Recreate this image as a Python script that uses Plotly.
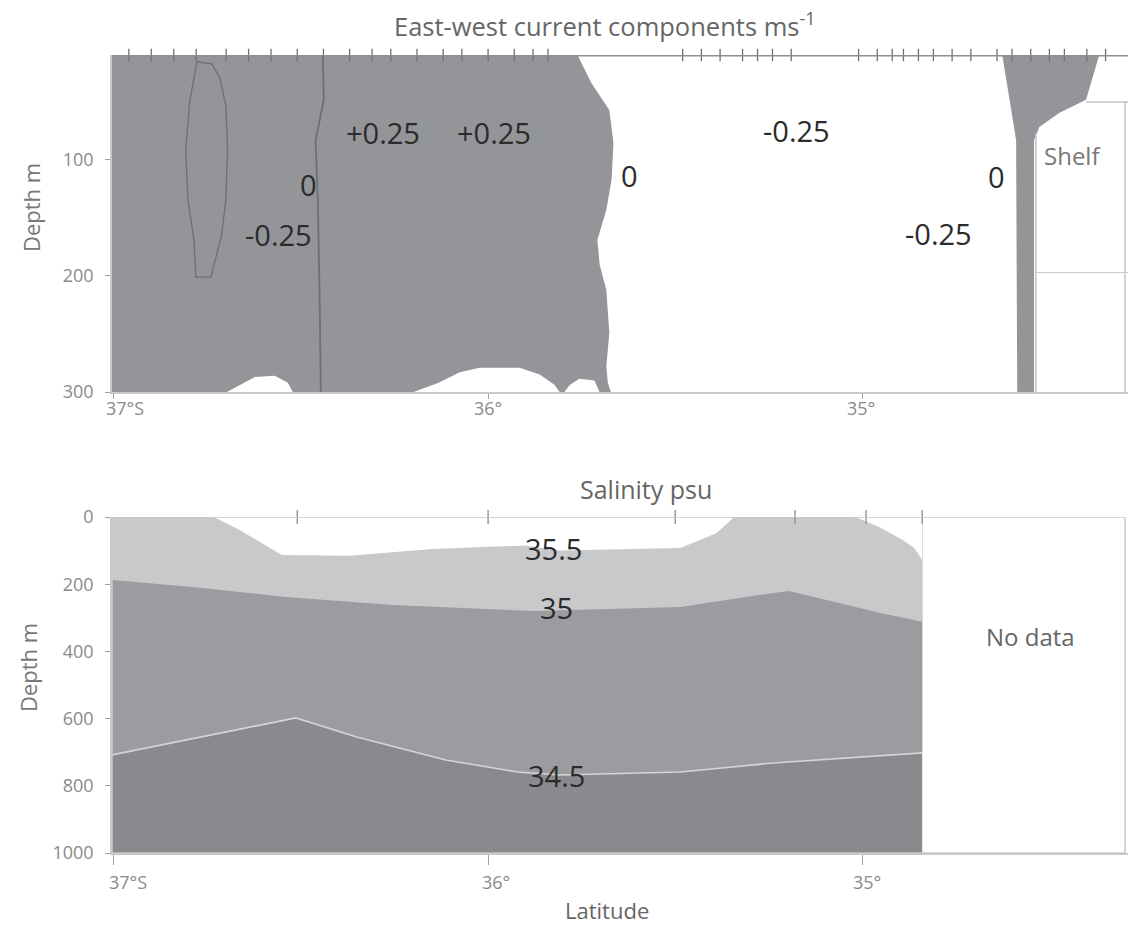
import plotly.graph_objects as go

# ---------------- data (latitude in degrees S, depth in m) ----------------
# Top panel: east-west current
ZERO_EAST_LAT = [35.761, 35.724, 35.676, 35.665, 35.670, 35.684, 35.708, 35.702, 35.684, 35.676, 35.684, 35.680, 35.672]
ZERO_EAST_DEPTH = [9.5, 33.6, 56.9, 85.3, 117, 143, 169, 190, 212, 249, 278, 292, 300]
BOTTOM_EDGE_LAT = [35.702, 35.716, 35.756, 35.782, 35.796, 35.809, 35.822, 35.862, 35.916, 36.023, 36.076,
                   36.132, 36.199, 36.522, 36.535, 36.570, 36.623, 36.664, 36.698]
BOTTOM_EDGE_DEPTH = [300, 290, 288.6, 294, 300, 300, 294, 285, 279, 279, 283, 292, 300, 300, 292, 286, 287, 294, 300]
SHELF_POS_LAT = [34.626, 34.367, 34.402, 34.474, 34.527, 34.541, 34.541, 34.586, 34.589, 34.602]
SHELF_POS_DEPTH = [9.5, 9.5, 48, 59.5, 71.5, 83, 300, 300, 83, 57]
LOOP_LAT = [36.778, 36.797, 36.808, 36.802, 36.786, 36.781, 36.741, 36.730, 36.712, 36.701, 36.696, 36.701, 36.717, 36.738, 36.778]
LOOP_DEPTH = [15.5, 48.3, 91.4, 134.5, 169, 200.9, 200.9, 188, 164.7, 134.5, 91.4, 52.6, 29.3, 17.2, 15.5]
ZERO_WEST_LAT = [36.442, 36.439, 36.461, 36.455, 36.450, 36.447]
ZERO_WEST_DEPTH = [9.5, 48, 83, 134.5, 220.7, 300]
ADCP_STATIONS = [36.96, 36.90, 36.84, 36.78, 36.70, 36.64, 36.58, 36.51, 36.44, 36.37, 36.31, 36.26, 36.19,
                 36.12, 36.07, 36.00, 35.93, 35.88, 35.84, 35.48, 35.43, 35.38, 35.32, 35.28, 35.24, 35.19,
                 35.01, 34.96, 34.92, 34.89, 34.85, 34.81, 34.76, 34.71, 34.64, 34.60, 34.55, 34.50, 34.46,
                 34.40, 34.35]
CURRENT_LABELS = ["+0.25", "+0.25", "0", "-0.25", "0", "-0.25", "0", "-0.25"]
CURRENT_LABEL_LAT = [36.282, 35.985, 36.479, 36.559, 35.622, 35.176, 34.642, 34.797]
CURRENT_LABEL_DEPTH = [76, 76, 121, 164, 113, 75, 114, 163]

# Bottom panel: salinity
S355_LAT = [36.733, 36.664, 36.551, 36.370, 36.150, 35.903, 35.809, 35.600, 35.486, 35.390, 35.353, 35.342]
S355_DEPTH = [0, 39, 113, 115, 95, 85, 100, 95, 92, 48, 9, 0]
S355B_LAT = [35.019, 34.955, 34.893, 34.861, 34.840, 34.840]
S355B_DEPTH = [0, 30, 68, 92, 128, 0]
S35_LAT = [37.005, 36.789, 36.541, 36.255, 35.873, 35.809, 35.486, 35.238, 35.195, 34.952, 34.840]
S35_DEPTH = [187.5, 208, 238, 262, 280, 278, 268, 226, 220, 286, 312]
S345_LAT = [37.005, 36.514, 36.351, 36.113, 35.921, 35.809, 35.486, 35.238, 34.840]
S345_DEPTH = [708, 598, 655, 723, 759, 768, 759, 732, 702]
CTD_STATIONS = [36.51, 36.00, 35.50, 35.18, 34.99, 34.84]
SAL_LABELS = ["35.5", "35", "34.5"]
SAL_LABEL_LAT = [35.825, 35.817, 35.817]
SAL_LABEL_DEPTH = [95, 268, 768]

LAT_TICKS = [37, 36, 35]
LAT_TICK_TEXT = ["37°S", "36°", "35°"]
DEPTH_TICKS_TOP = [100, 200, 300]
DEPTH_TICKS_BOTTOM = [0, 200, 400, 600, 800, 1000]

# ---------------- styles ----------------
FONT = "Open Sans"
GREY_TOP = "#949599"
LIGHT = "#c8c9cb"
MED = "#9b9c9f"
DARK = "#898a8d"
LINE = "#6e6f72"
TICK_COLOR = "#8a8a8a"
LAT_W, LAT_E = 37.005, 34.29
DATA_E = CTD_STATIONS[-1]

fig = go.Figure()

# ---- top panel ----
pos_x = [LAT_W] + ZERO_EAST_LAT + BOTTOM_EDGE_LAT + [LAT_W]
pos_y = [9.5] + ZERO_EAST_DEPTH + BOTTOM_EDGE_DEPTH + [300]
fig.add_trace(go.Scatter(x=pos_x, y=pos_y, fill="toself", fillcolor=GREY_TOP, mode="lines",
                         line=dict(width=0, color=GREY_TOP), xaxis="x", yaxis="y", hoverinfo="skip"))
fig.add_trace(go.Scatter(x=SHELF_POS_LAT, y=SHELF_POS_DEPTH, fill="toself", fillcolor=GREY_TOP, mode="lines",
                         line=dict(width=0, color=GREY_TOP), xaxis="x", yaxis="y", hoverinfo="skip"))
fig.add_trace(go.Scatter(x=LOOP_LAT, y=LOOP_DEPTH, mode="lines", line=dict(width=1.3, color=LINE),
                         xaxis="x", yaxis="y", hoverinfo="skip"))
fig.add_trace(go.Scatter(x=ZERO_WEST_LAT, y=ZERO_WEST_DEPTH, mode="lines", line=dict(width=1.8, color=LINE),
                         xaxis="x", yaxis="y", hoverinfo="skip"))
fig.add_trace(go.Scatter(x=ADCP_STATIONS, y=[9.5] * len(ADCP_STATIONS), mode="markers",
                         marker=dict(symbol="line-ns", size=9, line=dict(width=1.3, color="#6f7073")),
                         cliponaxis=False, xaxis="x", yaxis="y", hoverinfo="skip"))

# ---- bottom panel ----
fig.add_trace(go.Scatter(x=[LAT_W, DATA_E, DATA_E, LAT_W], y=[0, 0, 1000, 1000], fill="toself",
                         fillcolor=DARK, mode="lines", line=dict(width=0, color=DARK),
                         xaxis="x2", yaxis="y2", hoverinfo="skip"))
fig.add_trace(go.Scatter(x=[LAT_W, DATA_E] + S345_LAT[::-1], y=[0, 0] + S345_DEPTH[::-1], fill="toself",
                         fillcolor=MED, mode="lines", line=dict(width=0, color=MED),
                         xaxis="x2", yaxis="y2", hoverinfo="skip"))
fig.add_trace(go.Scatter(x=[LAT_W, DATA_E] + S35_LAT[::-1], y=[0, 0] + S35_DEPTH[::-1], fill="toself",
                         fillcolor=LIGHT, mode="lines", line=dict(width=0, color=LIGHT),
                         xaxis="x2", yaxis="y2", hoverinfo="skip"))
fig.add_trace(go.Scatter(x=S355_LAT, y=S355_DEPTH, fill="toself", fillcolor="white", mode="lines",
                         line=dict(width=0, color="white"), xaxis="x2", yaxis="y2", hoverinfo="skip"))
fig.add_trace(go.Scatter(x=S355B_LAT, y=S355B_DEPTH, fill="toself", fillcolor="white", mode="lines",
                         line=dict(width=0, color="white"), xaxis="x2", yaxis="y2", hoverinfo="skip"))
fig.add_trace(go.Scatter(x=S345_LAT, y=S345_DEPTH, mode="lines", line=dict(width=1.6, color="#d4d5d7"),
                         xaxis="x2", yaxis="y2", hoverinfo="skip"))
fig.add_trace(go.Scatter(x=CTD_STATIONS, y=[0] * len(CTD_STATIONS), mode="markers",
                         marker=dict(symbol="line-ns", size=10, line=dict(width=1.3, color="#8a8b8e")),
                         cliponaxis=False, xaxis="x2", yaxis="y2", hoverinfo="skip"))

# ---- annotations ----
ann = []
for t, la, d in zip(CURRENT_LABELS, CURRENT_LABEL_LAT, CURRENT_LABEL_DEPTH):
    ann.append(dict(x=la, y=d, xref="x", yref="y", text=t, showarrow=False, xanchor="center", yanchor="middle",
                    font=dict(family=FONT, size=29, color="#2b2b2b")))
for t, la, d in zip(SAL_LABELS, SAL_LABEL_LAT, SAL_LABEL_DEPTH):
    ann.append(dict(x=la, y=d, xref="x2", yref="y2", text=t, showarrow=False, xanchor="center", yanchor="middle",
                    font=dict(family=FONT, size=29, color="#2b2b2b")))

# latitude tick labels (placed on the axis ticks, offset like the original typesetting)
TOP_SHIFT = [11, 0, -1]
BOTTOM_SHIFT = [14, 8, 5]
for v, t, s in zip(LAT_TICKS, LAT_TICK_TEXT, TOP_SHIFT):
    ann.append(dict(x=v, y=1 - 408 / 927, xref="x", yref="paper", text=t, showarrow=False, xshift=s,
                    xanchor="center", yanchor="middle", font=dict(family=FONT, size=18, color=TICK_COLOR)))
for v, t, s in zip(LAT_TICKS, LAT_TICK_TEXT, BOTTOM_SHIFT):
    ann.append(dict(x=v, y=1 - 882 / 927, xref="x2", yref="paper", text=t, showarrow=False, xshift=s,
                    xanchor="center", yanchor="middle", font=dict(family=FONT, size=18, color=TICK_COLOR)))


def paper_text(px, py, text, size, color, angle=0):
    return dict(x=px / 1129, y=1 - py / 927, xref="paper", yref="paper", showarrow=False, text=text,
                xanchor="center", yanchor="middle", textangle=angle,
                font=dict(family=FONT, size=size, color=color))


ann += [
    paper_text(604, 24, "East-west current components ms<sup>-1</sup>", 25.5, "#666"),
    paper_text(646, 489, "Salinity psu", 25, "#666"),
    paper_text(607, 910, "Latitude", 22, "#666"),
    paper_text(31, 208, "Depth m", 22, "#777", -90),
    paper_text(28, 668, "Depth m", 22, "#777", -90),
    dict(x=34.437, y=96, xref="x", yref="y", showarrow=False, text="Shelf", xanchor="center", yanchor="middle",
         font=dict(family=FONT, size=24, color="#777")),
    dict(x=34.551, y=357, xref="x2", yref="y2", showarrow=False, text="No data", xanchor="center", yanchor="middle",
         font=dict(family=FONT, size=24, color="#666")),
]

shapes = [
    # top edge of current panel
    dict(type="line", xref="x", yref="y", x0=LAT_W, x1=LAT_E, y0=9.5, y1=9.5, line=dict(color="#8d8e91", width=3)),
    # shelf box
    dict(type="line", xref="x", yref="y", x0=34.402, x1=LAT_E, y0=50, y1=50, line=dict(color="#c4c4c4", width=1.5)),
    dict(type="line", xref="x", yref="y", x0=34.536, x1=34.536, y0=77, y1=300, line=dict(color="#c4c4c4", width=1.5)),
    dict(type="line", xref="x", yref="y", x0=34.298, x1=34.298, y0=50, y1=300, line=dict(color="#c4c4c4", width=1.5)),
    dict(type="line", xref="x", yref="y", x0=34.536, x1=LAT_E, y0=197, y1=197, line=dict(color="#cccccc", width=1.2)),
    # salinity frame
    dict(type="rect", xref="x2", yref="y2", x0=LAT_W, x1=34.298, y0=0, y1=1000, line=dict(color="#c8c8c8", width=1.5)),
]

axis_common = dict(showgrid=False, zeroline=False, ticks="outside", tickcolor="#a0a0a0",
                   tickfont=dict(family=FONT, size=18, color=TICK_COLOR), showline=True, linecolor="#c8c8c8",
                   linewidth=1.5, automargin=False)

fig.update_layout(
    width=1129, height=927, autosize=False, margin=dict(l=0, r=0, t=0, b=0, pad=0, autoexpand=False),
    paper_bgcolor="white", plot_bgcolor="white", showlegend=False,
    xaxis=dict(domain=[112 / 1129, 1128 / 1129], range=[LAT_W, LAT_E], anchor="y", ticklen=5,
               tickvals=LAT_TICKS, showticklabels=False, **axis_common),
    yaxis=dict(domain=[(927 - 392) / 927, (927 - 55) / 927], range=[300, 9.5], anchor="x", ticklen=5,
               ticklabelstandoff=8, tickvals=DEPTH_TICKS_TOP, **axis_common),
    xaxis2=dict(domain=[112 / 1129, 1128 / 1129], range=[LAT_W, LAT_E], anchor="y2", ticklen=10,
                tickvals=LAT_TICKS, showticklabels=False, **axis_common),
    yaxis2=dict(domain=[(927 - 853) / 927, (927 - 517) / 927], range=[1000, 0], anchor="x2", ticklen=5,
                ticklabelstandoff=8, tickvals=DEPTH_TICKS_BOTTOM, **axis_common),
    annotations=ann, shapes=shapes,
)

fig.write_html("out.html")
